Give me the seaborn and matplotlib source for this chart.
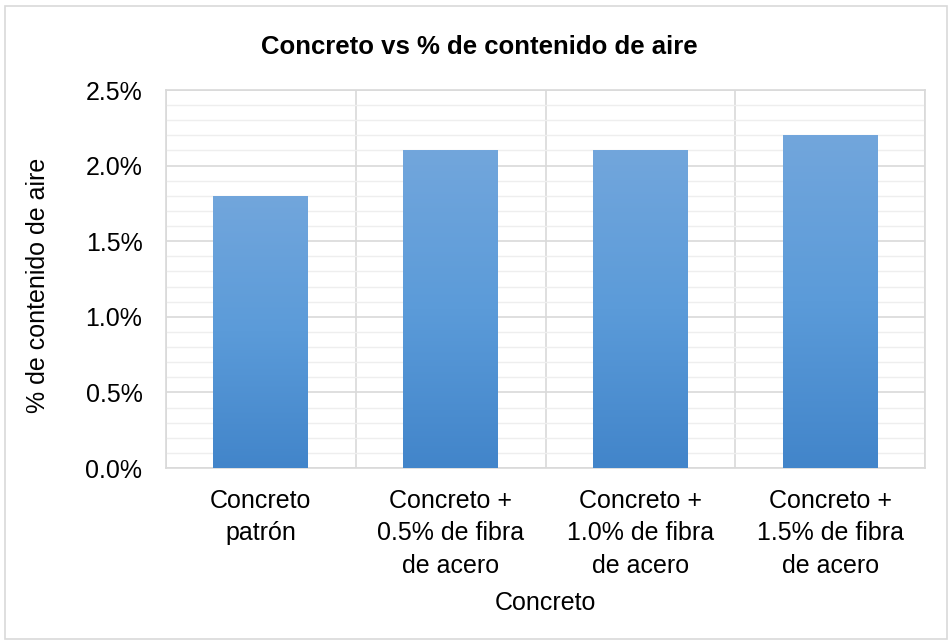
import numpy as np
import pandas as pd
import matplotlib
matplotlib.use("Agg")
from matplotlib import pyplot as plt
from matplotlib.colors import LinearSegmentedColormap
from matplotlib.patches import Rectangle
import seaborn as sns

categories = ["Concreto\npatrón",
              "Concreto +\n0.5% de fibra\nde acero",
              "Concreto +\n1.0% de fibra\nde acero",
              "Concreto +\n1.5% de fibra\nde acero"]
aire = [1.8, 2.1, 2.1, 2.2]
yticks = [0.0, 0.5, 1.0, 1.5, 2.0, 2.5]

df = pd.DataFrame({"Concreto": categories, "Aire": aire})

sns.set_style("white")
plt.rcParams['font.family'] = ['Liberation Sans', 'DejaVu Sans']
plt.rcParams['text.color'] = 'black'
plt.rcParams['axes.labelcolor'] = 'black'

W, H = 952, 644
fig = plt.figure(figsize=(W / 100, H / 100), dpi=100)
ax = fig.add_axes([166 / W, 1 - 468 / H, (925 - 166) / W, (468 - 90) / H])

sns.barplot(data=df, x="Concreto", y="Aire", color="#5b9bd5", width=0.5,
            saturation=1, ax=ax, zorder=3)

# vertical gradient on each bar
cmap = LinearSegmentedColormap.from_list("bar", ["#4285ca", "#5b9bd9", "#72a6dc"])
grad = np.linspace(0, 1, 256).reshape(-1, 1)
for p in ax.patches:
    x0, y0 = p.get_x(), p.get_y()
    w, h = p.get_width(), p.get_height()
    im = ax.imshow(grad, cmap=cmap, aspect="auto", origin="lower",
                   extent=[x0, x0 + w, y0, y0 + h], zorder=4)
    im.set_clip_path(p)
    p.set_facecolor("none")
    p.set_edgecolor("none")

ax.set_xlim(-0.5, len(categories) - 0.5)
ax.set_ylim(0, 2.5)
ax.set_yticks(yticks)
ax.set_yticklabels([f"{v:.1f}%" for v in yticks])
ax.set_yticks(np.arange(0, 2.51, 0.1), minor=True)
ax.set_xticks(np.arange(len(categories) + 1) - 0.5, minor=True)

ax.grid(which="major", axis="y", color="#d9d9d9", linewidth=1.2, zorder=0)
ax.grid(which="minor", axis="y", color="#eeeeee", linewidth=1.0, zorder=0)
ax.grid(which="minor", axis="x", color="#d9d9d9", linewidth=1.2, zorder=0)
ax.set_axisbelow(True)
ax.tick_params(which="both", length=0, labelsize=18, colors="black")
ax.tick_params(axis="x", pad=15)
ax.tick_params(axis="y", pad=17)
for lbl in ax.get_xticklabels():
    lbl.set_linespacing(1.45)
for s in ax.spines.values():
    s.set_color("#d9d9d9")
    s.set_linewidth(1.2)

ax.set_xlabel("Concreto", fontsize=18, color="black")
ax.set_ylabel("% de contenido de aire", fontsize=18, color="black")
ax.xaxis.set_label_coords(545 / W, 1 - 603 / H, transform=fig.transFigure)
ax.yaxis.set_label_coords(38 / W, 1 - 285 / H, transform=fig.transFigure)
ax.xaxis.label.set_va("center")
ax.yaxis.label.set_va("center")

fig.text(479 / W, 1 - 47 / H, "Concreto vs % de contenido de aire", fontsize=18.5,
         fontweight="bold", ha="center", va="center", color="black")

fig.patches.append(Rectangle((5 / W, 5 / H), 942 / W, 633 / H, transform=fig.transFigure,
                             fill=False, edgecolor="#d9d9d9", linewidth=1.2))

plt.savefig("out.png", dpi=100)
